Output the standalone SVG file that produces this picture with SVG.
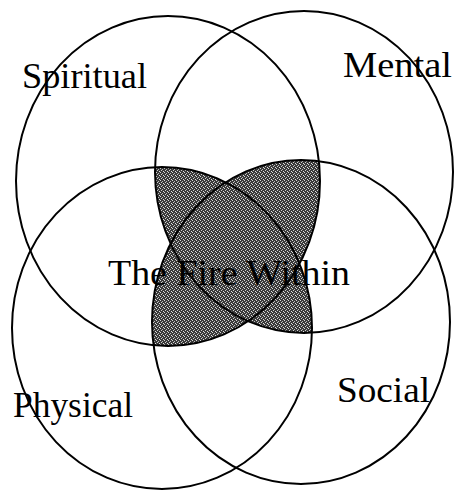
<svg xmlns="http://www.w3.org/2000/svg" width="454" height="491" viewBox="0 0 454 491">
  <style>
    .ring { fill: none; stroke: #000; stroke-width: 2; }
    .lbl { font-family: "Liberation Serif", "Times New Roman", serif; font-size: 36px; fill: #000; }
    .shade { fill: url(#dither); }
  </style>
  <defs>
    <pattern id="dither" width="4" height="4" patternUnits="userSpaceOnUse">
      <rect width="4" height="4" fill="#3a3a3a"/>
      <rect x="0" y="0" width="1" height="1" fill="#d8d8d8"/>
      <rect x="2" y="1" width="1" height="1" fill="#bbbbbb"/>
      <rect x="1" y="2" width="1" height="1" fill="#cfcfcf"/>
      <rect x="3" y="3" width="1" height="1" fill="#e0e0e0"/>
    </pattern>
    <clipPath id="cTL"><ellipse cx="168" cy="181" rx="152" ry="165"/></clipPath>
    <clipPath id="cTR"><ellipse cx="304" cy="172" rx="149" ry="161"/></clipPath>
    <clipPath id="cBL"><ellipse cx="162" cy="328" rx="150" ry="161"/></clipPath>
    <clipPath id="cBR"><ellipse cx="301" cy="322" rx="149" ry="162"/></clipPath>
  </defs>
  <rect width="454" height="491" fill="#fff"/>
  <g id="core-shading">
    <g clip-path="url(#cTL)"><g clip-path="url(#cTR)"><rect class="shade" x="0" y="0" width="454" height="491" clip-path="url(#cBL)"/></g></g>
    <g clip-path="url(#cTL)"><g clip-path="url(#cTR)"><rect class="shade" x="0" y="0" width="454" height="491" clip-path="url(#cBR)"/></g></g>
    <g clip-path="url(#cTL)"><g clip-path="url(#cBL)"><rect class="shade" x="0" y="0" width="454" height="491" clip-path="url(#cBR)"/></g></g>
    <g clip-path="url(#cTR)"><g clip-path="url(#cBL)"><rect class="shade" x="0" y="0" width="454" height="491" clip-path="url(#cBR)"/></g></g>
  </g>
  <g id="spiritual">
    <ellipse class="ring" cx="168" cy="181" rx="152" ry="165"/>
    <text class="lbl" x="22" y="88" textLength="125" lengthAdjust="spacingAndGlyphs">Spiritual</text>
  </g>
  <g id="mental">
    <ellipse class="ring" cx="304" cy="172" rx="149" ry="161"/>
    <text class="lbl" x="343" y="77" textLength="109" lengthAdjust="spacingAndGlyphs">Mental</text>
  </g>
  <g id="physical">
    <ellipse class="ring" cx="162" cy="328" rx="150" ry="161"/>
    <text class="lbl" x="13" y="417" textLength="120" lengthAdjust="spacingAndGlyphs">Physical</text>
  </g>
  <g id="social">
    <ellipse class="ring" cx="301" cy="322" rx="149" ry="162"/>
    <text class="lbl" x="337" y="402" textLength="93" lengthAdjust="spacingAndGlyphs">Social</text>
  </g>
  <g id="fire-within">
    <text class="lbl" x="108" y="285" textLength="242" lengthAdjust="spacingAndGlyphs">The Fire Within</text>
  </g>
</svg>
